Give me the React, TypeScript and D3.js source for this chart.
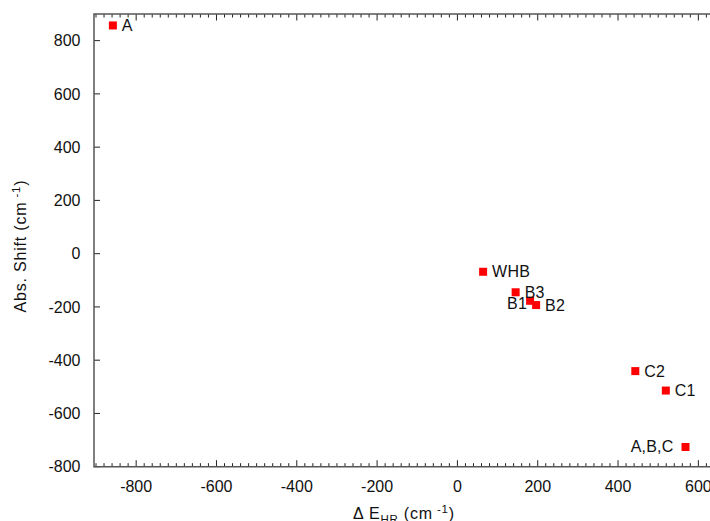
import React, { useEffect, useRef } from 'react';
import * as d3 from 'd3';

const labels = ['A', 'WHB', 'B3', 'B1', 'B2', 'C2', 'C1', 'A,B,C'];
const deltaE = [-858, 64, 145, 181, 196, 443, 519, 568];
const absShift = [857, -68, -145, -177, -193, -441, -514, -726];
const labelSide = ['right', 'right', 'right', 'left', 'right', 'right', 'right', 'left'];

const xTicks = [-800, -600, -400, -200, 0, 200, 400, 600];
const yTicks = [-800, -600, -400, -200, 0, 200, 400, 600, 800];

const W = 710;
const H = 521;
const FONT = 'Liberation Sans, Arial, sans-serif';
const FS = 16;

const App = () => {
  const ref = useRef<SVGSVGElement>(null);

  useEffect(() => {
    const svg = d3.select(ref.current);
    svg.selectAll('*').remove();

    const x = d3.scaleLinear().domain([-905, 630]).range([94, 710.4]);
    const y = d3.scaleLinear().domain([-800, 900]).range([466.7, 14]);

    const axisColor = '#555';

    // minor ticks on bottom and top
    const minor = d3.range(-900, 640, 20).filter((v) => v % 200 !== 0);
    const g = svg.append('g');
    minor.forEach((v) => {
      g.append('line')
        .attr('x1', x(v)).attr('x2', x(v))
        .attr('y1', y(-800)).attr('y2', y(-800) - 3.5)
        .attr('stroke', '#222').attr('stroke-width', 1);
      g.append('line')
        .attr('x1', x(v)).attr('x2', x(v))
        .attr('y1', y(900)).attr('y2', y(900) + 3.5)
        .attr('stroke', '#222').attr('stroke-width', 1);
    });
    xTicks.forEach((v) => {
      g.append('line')
        .attr('x1', x(v)).attr('x2', x(v))
        .attr('y1', y(-800)).attr('y2', y(-800) - 6.5)
        .attr('stroke', '#222').attr('stroke-width', 1);
      g.append('line')
        .attr('x1', x(v)).attr('x2', x(v))
        .attr('y1', y(900)).attr('y2', y(900) + 6.5)
        .attr('stroke', '#222').attr('stroke-width', 1);
      g.append('text')
        .attr('x', x(v)).attr('y', 491.5)
        .attr('text-anchor', 'middle')
        .attr('font-family', FONT).attr('font-size', FS)
        .attr('fill', '#111')
        .text(v);
    });
    yTicks.forEach((v) => {
      g.append('line')
        .attr('x1', x(-905)).attr('x2', x(-905) + 6)
        .attr('y1', y(v)).attr('y2', y(v))
        .attr('stroke', '#222').attr('stroke-width', 1);
      g.append('text')
        .attr('x', 80.5).attr('y', y(v) + 5.7)
        .attr('text-anchor', 'end')
        .attr('font-family', FONT).attr('font-size', FS)
        .attr('fill', '#111')
        .text(v);
    });

    // axis frame
    g.append('path')
      .attr('d', `M${W},${y(900)}H${x(-905)}V${y(-800)}H${W}`)
      .attr('fill', 'none')
      .attr('stroke', axisColor)
      .attr('stroke-width', 1.5);

    // points
    const pts = labels.map((l, i) => ({ l, xv: deltaE[i], yv: absShift[i], side: labelSide[i] }));
    const s = 8;
    svg.append('g').selectAll('rect').data(pts).enter().append('rect')
      .attr('x', (d) => x(d.xv) - s / 2)
      .attr('y', (d) => y(d.yv) - s / 2)
      .attr('width', s).attr('height', s)
      .attr('fill', '#ff0000');

    svg.append('g').selectAll('text').data(pts).enter().append('text')
      .attr('x', (d) => (d.side === 'right' ? x(d.xv) + 9 : x(d.l === 'B1' ? d.xv : d.xv) - (d.l === 'B1' ? 3 : 12)))
      .attr('y', (d) => y(d.yv) + (d.l === 'B1' ? 8.5 : 5.5))
      .attr('text-anchor', (d) => (d.side === 'right' ? 'start' : 'end'))
      .attr('font-family', FONT).attr('font-size', FS)
      .attr('letter-spacing', 0.2)
      .attr('fill', '#111')
      .text((d) => d.l);

    // axis labels
    const xl = svg.append('text')
      .attr('x', 404).attr('y', 518.5)
      .attr('text-anchor', 'middle')
      .attr('font-family', FONT).attr('font-size', FS)
      .attr('letter-spacing', 0.8)
      .attr('fill', '#111');
    xl.append('tspan').text('\u0394 E');
    xl.append('tspan').attr('font-size', 11.5).attr('dy', 4).text('HR');
    xl.append('tspan').attr('dy', -4).text('  (cm');
    xl.append('tspan').attr('font-size', 11.5).attr('dy', -6).text(' -1');
    xl.append('tspan').attr('dy', 6).text(')');

    const yl = svg.append('text')
      .attr('transform', 'translate(25.5,246) rotate(-90)')
      .attr('text-anchor', 'middle')
      .attr('font-family', FONT).attr('font-size', FS)
      .attr('letter-spacing', 0.8)
      .attr('fill', '#111');
    yl.append('tspan').text('Abs.  Shift (cm');
    yl.append('tspan').attr('font-size', 11.5).attr('dy', -6).text(' -1');
    yl.append('tspan').attr('dy', 6).text(')');
  }, []);

  return (
    <svg
      ref={ref}
      width={W}
      height={H}
      style={{ position: 'absolute', left: 0, top: 0, background: '#fff' }}
    />
  );
};

export default App;
